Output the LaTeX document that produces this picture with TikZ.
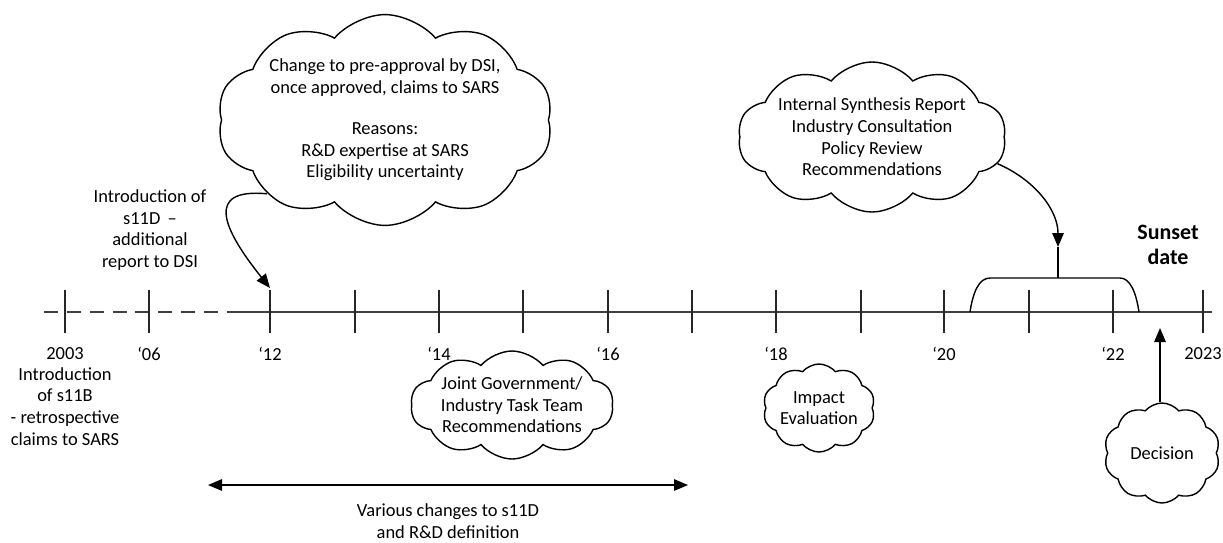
\documentclass[tikz,border=0pt]{standalone}
\usepackage{fontspec}
\setmainfont{Carlito}
\usetikzlibrary{shapes.symbols,arrows.meta,positioning}

\begin{document}
\begin{tikzpicture}[x=0.02cm, y=-0.02cm,
    every node/.style={font=\fontsize{10.5}{12.3}\selectfont, align=center, inner sep=0pt},
    cloudbox/.style={cloud, draw, thick, cloud puffs=10, cloud puff arc=100, cloud ignores aspect},
    axis/.style={line width=0.7pt, black!75},
    tick/.style={line width=0.6pt, black!85},
    arr/.style={-{Triangle[length=2.8mm, width=2.3mm]}, thick}]
    \useasboundingbox (0,0) rectangle (1223,542);

    % Time axis
    \coordinate (axL) at (44,312);
    \coordinate (axM) at (236,312);
    \coordinate (axR) at (1212,312);
    \draw[axis, dashed, dash pattern=on 8pt off 5pt] (axL) -- (axM);
    \draw[axis] (axM) -- (axR);
    \foreach \x in {65,149,270,355,439,523,608,692,776,861,944,1029,1113,1203}
        \draw[tick] (\x,290) -- (\x,333);

    % Year labels
    \node (y03) at (65,354) {2003};
    \node (y06) at (149,354) {‘06};
    \node (y12) at (270,354) {‘12};
    \node (y14) at (439,354) {‘14};
    \node (y16) at (608,354) {‘16};
    \node (y18) at (776,354) {‘18};
    \node (y20) at (944,354) {‘20};
    \node (y22) at (1113,354) {‘22};
    \node (y23) at (1203,354) {2023};

    % Notes on the axis
    \node[anchor=north] (s11B) at (65,367) {Introduction\\of s11B\\- retrospective\\claims to SARS};
    \node (s11D) at (150,230) {Introduction of\\s11D \,--\\additional\\report to DSI};
    \node[font=\fontsize{12.5}{14.5}\selectfont\bfseries] (sunset) at (1168,245) {Sunset\\date};

    % Clouds
    \node[cloudbox, minimum width=302*0.02cm, minimum height=208*0.02cm] (cDSI) at (385,120)
        {Change to pre-approval by DSI,\\once approved, claims to SARS\\[11pt]Reasons:\\R\&D expertise at SARS\\Eligibility uncertainty};
    \node[cloudbox, minimum width=252*0.02cm, minimum height=150*0.02cm] (cRev) at (872,137)
        {Internal Synthesis Report\\Industry Consultation\\Policy Review\\Recommendations};
    \node[cloudbox, minimum width=174*0.02cm, minimum height=108*0.02cm] (cTask) at (512,405)
        {Joint Government/\\Industry Task Team\\Recommendations};
    \node[cloudbox, minimum width=112*0.02cm, minimum height=88*0.02cm] (cImp) at (819,408)
        {Impact\\Evaluation};
    \node[cloudbox, minimum width=116*0.02cm, minimum height=100*0.02cm] (cDec) at (1162,453)
        {Decision};

    % Review window bracket
    \coordinate (bL) at (970,312);
    \coordinate (bR) at (1139,312);
    \coordinate (bTop) at (1058,278);
    \coordinate (bTip) at (1058,247);
    \draw[thick] (bL) .. controls (973,292) and (979,278) .. (990,278) -- (1120,278)
        .. controls (1130,278) and (1136,292) .. (bR);
    \draw[thick] (bTop) -- (bTip);

    % Arrows
    \coordinate (t12) at (270,288);
    \draw[arr] (cDSI.212) .. controls (205,188) and (222,228) .. (t12);
    \draw[arr] (cRev.-12) .. controls (1035,180) and (1058,210) .. (bTip);
    \coordinate (t22) at (1160,328);
    \draw[arr] (cDec.north -| t22) -- (t22);

    % Period of amendments
    \coordinate (pL) at (208,485);
    \coordinate (pR) at (688,485);
    \draw[{Triangle[length=2.8mm, width=2.3mm]}-{Triangle[length=2.8mm, width=2.3mm]}, thick] (pL) -- (pR);
    \node (chg) at (448,521) {Various changes to s11D\\and R\&D definition};
\end{tikzpicture}
\end{document}
